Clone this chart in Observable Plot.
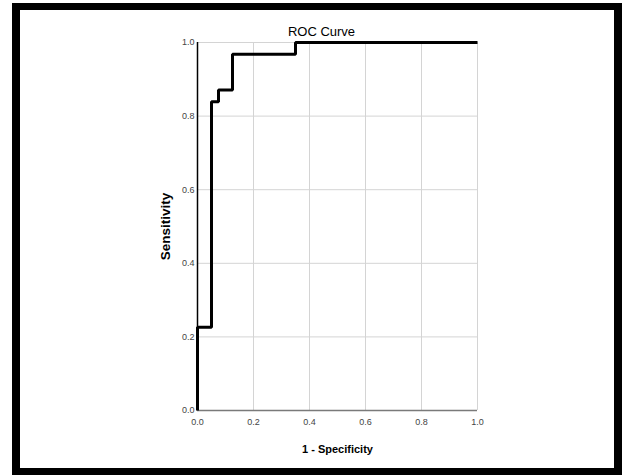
<!DOCTYPE html>
<html>
<head>
<meta charset="utf-8">
<script src="https://cdn.jsdelivr.net/npm/d3@7"></script>
<script src="https://cdn.jsdelivr.net/npm/@observablehq/plot@0.6"></script>
<style>
  html, body { margin: 0; padding: 0; background: #fff; }
  #wrap { position: relative; width: 622px; height: 475px; overflow: hidden; background: #fff; }
  #chart { position: absolute; left: 0; top: 0; }
  #frame { position: absolute; left: 12px; top: 3px; width: 610px; height: 473px; box-sizing: border-box;
           border: 8px solid #000; border-top-width: 7px; pointer-events: none; }
</style>
</head>
<body>
<div id="wrap"><div id="chart"></div><div id="frame"></div></div>
<script>
// ROC coordinates (1 - Specificity, Sensitivity)
const fpr = [0, 0, 0.05, 0.05, 0.075, 0.075, 0.125, 0.125, 0.35, 0.35, 1];
const tpr = [0, 0.226, 0.226, 0.839, 0.839, 0.871, 0.871, 0.968, 0.968, 1, 1];
const tickValues = [0, 0.2, 0.4, 0.6, 0.8, 1.0];
const gridValues = [0.2, 0.4, 0.6, 0.8, 1.0];
const title = "ROC Curve";
const xLabel = "1 - Specificity";
const yLabel = "Sensitivity";

const roc = fpr.map((x, i) => ({x, y: tpr[i]}));
const font = "Liberation Sans, Arial, sans-serif";

const plot = Plot.plot({
  width: 622,
  height: 475,
  marginLeft: 197,
  marginRight: 145,
  marginTop: 42,
  marginBottom: 65,
  style: {fontFamily: font, background: "#fff", color: "#000"},
  x: {domain: [0, 1]},
  y: {domain: [0, 1]},
  marks: [
    Plot.gridX(gridValues, {stroke: "#d4d4d4", strokeOpacity: 1, strokeWidth: 1}),
    Plot.gridY(gridValues, {stroke: "#d4d4d4", strokeOpacity: 1, strokeWidth: 1}),
    Plot.ruleY([0], {stroke: "#7a7a7a", strokeWidth: 1.5}),
    Plot.ruleX([0], {stroke: "#000", strokeWidth: 1.5}),
    Plot.axisX(tickValues, {tickSize: 0, tickPadding: 8, tickFormat: d3.format(".1f"), fontSize: 9, fill: "#444", label: null}),
    Plot.axisY(tickValues, {tickSize: 0, tickPadding: 3, tickFormat: d3.format(".1f"), fontSize: 9, fill: "#444", label: null}),
    Plot.line(roc, {x: "x", y: "y", stroke: "#000", strokeWidth: 3, strokeLinejoin: "miter", strokeLinecap: "butt"}),
    Plot.text([title], {frameAnchor: "top-left", dx: 124, dy: -11, textAnchor: "middle", lineAnchor: "middle", fontSize: 13, fill: "#000"}),
    Plot.text([xLabel], {frameAnchor: "bottom", dy: 39, textAnchor: "middle", lineAnchor: "middle", fontSize: 11, fontWeight: "bold", fill: "#000"}),
    Plot.text([yLabel], {frameAnchor: "left", dx: -32, rotate: -90, textAnchor: "middle", lineAnchor: "middle", fontSize: 13.5, fontWeight: "bold", fill: "#000"})
  ]
});
document.getElementById("chart").appendChild(plot);
</script>
</body>
</html>
